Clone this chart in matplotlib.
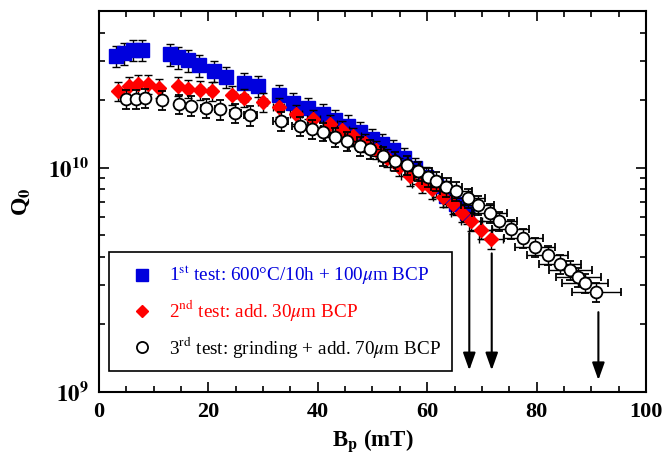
import matplotlib
matplotlib.use("Agg")
import matplotlib.pyplot as plt
from matplotlib.lines import Line2D
from matplotlib.ticker import FixedLocator, FixedFormatter, MultipleLocator, NullFormatter

plt.rcParams['font.family'] = ['Liberation Serif', 'DejaVu Serif']
plt.rcParams['mathtext.fontset'] = 'stix'

# 1st test: 600C/10h + 100um BCP
b1 = [3.1, 4.6, 6.2, 7.8, 13.0, 14.5, 16.3, 18.2, 21.0, 23.3, 26.5, 29.1,
      33.0, 35.5, 38.3, 41.0, 43.1, 45.6, 47.7, 49.9, 51.7, 53.8, 55.8,
      57.8, 59.8, 61.6, 63.4, 65.3, 67.2]
q1 = [3.15e10, 3.24e10, 3.35e10, 3.35e10, 3.20e10, 3.11e10, 3.01e10, 2.86e10,
      2.70e10, 2.54e10, 2.39e10, 2.31e10, 2.10e10, 1.95e10, 1.85e10, 1.73e10,
      1.63e10, 1.54e10, 1.44e10, 1.34e10, 1.27e10, 1.20e10, 1.10e10, 1.00e10,
      9.1e9, 8.3e9, 7.5e9, 6.9e9, 6.3e9]
q1_err = [3.5e9, 3.6e9, 3.7e9, 3.7e9, 3.5e9, 3.4e9, 3.3e9, 3.1e9, 3.0e9, 2.8e9,
          2.6e9, 2.5e9, 2.3e9, 2.1e9, 2.0e9, 1.9e9, 1.8e9, 1.7e9, 1.6e9, 1.5e9,
          1.4e9, 1.3e9, 1.2e9, 1.1e9, 1.0e9, 9e8, 8e8, 7.5e8, 7e8]

# 2nd test: additional 30um BCP
b2 = [3.5, 5.4, 7.2, 9.0, 11.0, 14.5, 16.3, 18.5, 20.6, 24.4, 26.5, 29.9,
      32.9, 36.1, 39.2, 42.2, 44.4, 46.5, 48.6, 50.6, 52.7, 54.8, 56.9,
      59.0, 60.8, 62.9, 64.8, 66.3, 68.1, 69.8, 71.7]
q2 = [2.20e10, 2.31e10, 2.36e10, 2.36e10, 2.27e10, 2.31e10, 2.25e10, 2.22e10,
      2.20e10, 2.11e10, 2.05e10, 1.97e10, 1.87e10, 1.74e10, 1.65e10, 1.56e10,
      1.47e10, 1.38e10, 1.29e10, 1.20e10, 1.11e10, 1.01e10, 9.2e9, 8.5e9,
      8.0e9, 7.4e9, 6.9e9, 6.3e9, 5.8e9, 5.3e9, 4.8e9]
q2_err = [2.1e9, 2.2e9, 2.3e9, 2.3e9, 2.2e9, 2.2e9, 2.1e9, 2.1e9, 2.1e9, 2.0e9,
          1.9e9, 1.9e9, 1.8e9, 1.7e9, 1.6e9, 1.5e9, 1.4e9, 1.3e9, 1.2e9, 1.1e9,
          1.0e9, 9.5e8, 8.8e8, 8.1e8, 7.6e8, 7.0e8, 6.5e8, 6.0e8, 5.5e8, 5.0e8,
          4.6e8]
b2_err = [0.3, 0.3, 0.3, 0.3, 0.4, 0.5, 0.5, 0.6, 0.6, 0.7, 0.8, 0.9, 1.0,
          1.1, 1.2, 1.3, 1.3, 1.4, 1.5, 1.5, 1.6, 1.6, 1.7, 1.8, 1.8, 1.9,
          1.9, 2.0, 2.0, 2.1, 2.2]

# 3rd test: grinding + additional 70um BCP
b3 = [5.0, 6.8, 8.4, 11.5, 14.7, 16.9, 19.5, 22.1, 24.9, 27.7, 33.2, 36.7,
      38.9, 41.0, 43.1, 45.3, 47.7, 49.5, 52.0, 54.2, 56.3, 58.4, 60.2, 61.7,
      63.5, 65.3, 67.5, 69.2, 71.4, 73.2, 75.3, 77.6, 79.7, 82.0, 84.3, 86.2,
      87.6, 88.8, 90.9]
q3 = [2.02e10, 2.03e10, 2.04e10, 2.00e10, 1.92e10, 1.89e10, 1.85e10, 1.82e10,
      1.76e10, 1.71e10, 1.62e10, 1.53e10, 1.49e10, 1.45e10, 1.37e10, 1.32e10,
      1.25e10, 1.21e10, 1.13e10, 1.07e10, 1.03e10, 9.7e9, 9.1e9, 8.75e9,
      8.2e9, 7.85e9, 7.3e9, 6.8e9, 6.27e9, 5.81e9, 5.34e9, 4.87e9, 4.42e9,
      4.1e9, 3.73e9, 3.51e9, 3.25e9, 3.06e9, 2.79e9]
q3_err = [2.0e9, 2.0e9, 2.0e9, 2.0e9, 1.9e9, 1.9e9, 1.8e9, 1.8e9, 1.7e9, 1.7e9,
          1.6e9, 1.5e9, 1.5e9, 1.4e9, 1.3e9, 1.3e9, 1.2e9, 1.2e9, 1.1e9, 1.0e9,
          1.0e9, 9.5e8, 9.0e8, 8.5e8, 8.0e8, 7.6e8, 7.1e8, 6.6e8, 6.1e8, 5.6e8,
          5.2e8, 4.7e8, 4.3e8, 4.0e8, 3.6e8, 3.4e8, 3.2e8, 3.0e8, 2.7e8]
b3_err = [0.3, 0.3, 0.4, 0.5, 0.6, 0.7, 0.8, 0.9, 1.0, 1.1, 1.3, 1.5, 1.6,
          1.7, 1.8, 1.9, 2.0, 2.1, 2.2, 2.3, 2.4, 2.5, 2.6, 2.7, 2.8, 2.9,
          3.0, 3.1, 3.2, 3.3, 3.4, 3.5, 3.6, 3.7, 3.9, 4.0, 4.1, 4.2, 4.5]

# quench field markers: field, arrow start, arrow tip
arrow_b = [67.7, 71.8, 91.3]
arrow_top = [5.1e9, 4.15e9, 2.27e9]
arrow_tip = [1.25e9, 1.25e9, 1.13e9]

labels = [r'1$^{\rm st}$ test: 600°C/10h + 100$\mu$m BCP',
          r'2$^{\rm nd}$ test: add. 30$\mu$m BCP',
          r'3$^{\rm rd}$ test: grinding + add. 70$\mu$m BCP']
colors = ['#0000dd', '#ff0000', 'black']

fig = plt.figure(figsize=(6.62, 4.66), dpi=100)
ax = fig.add_axes([0.1495, 0.1588, 0.8263, 0.8176])

eb = dict(ecolor='black', elinewidth=1.0, capsize=2.8, capthick=1.0, linestyle='none')
ax.errorbar(b1, q1, yerr=q1_err, marker='s', ms=9.8, mfc=colors[0], mec=colors[0],
            zorder=2, **eb)
ax.errorbar(b2, q2, yerr=q2_err, xerr=b2_err, marker='D', ms=6.8, mfc=colors[1],
            mec=colors[1], zorder=3, **eb)
ax.errorbar(b3, q3, yerr=q3_err, xerr=b3_err, marker='o', ms=8.5, mfc='white',
            mec='black', mew=1.3, zorder=4, **eb)

for xb, yt, yb in zip(arrow_b, arrow_top, arrow_tip):
    ax.annotate('', xy=(xb, yb), xytext=(xb, yt),
                arrowprops=dict(arrowstyle='-|>,head_length=0.7,head_width=0.25',
                                mutation_scale=15, color='black', lw=1.5,
                                shrinkA=0, shrinkB=0), zorder=5)

ax.set_yscale('log')
ax.set_xlim(0, 100)
ax.set_ylim(1e9, 5e10)

ax.xaxis.set_major_locator(MultipleLocator(20))
ax.xaxis.set_minor_locator(MultipleLocator(5))
ax.yaxis.set_major_locator(FixedLocator([1e9, 1e10]))
ax.yaxis.set_major_formatter(FixedFormatter([r'$\mathbf{10^{9}}$', r'$\mathbf{10^{10}}$']))
ax.yaxis.set_minor_locator(FixedLocator([k * 1e9 for k in range(2, 10)] +
                                        [k * 1e10 for k in range(2, 5)]))
ax.yaxis.set_minor_formatter(NullFormatter())

ax.tick_params(which='both', direction='in', top=True, right=True, width=1.2,
               pad=7)
ax.tick_params(axis='x', labelsize=16)
ax.tick_params(axis='y', labelsize=16.5)
ax.tick_params(which='major', length=7)
ax.tick_params(which='minor', length=4)
for lab in ax.get_xticklabels():
    lab.set_fontweight('bold')
for sp in ax.spines.values():
    sp.set_linewidth(1.5)

ax.set_xlabel(r'B$_{\mathbf{p}}$ (mT)', fontsize=16.5, fontweight='bold', labelpad=4)
ax.set_ylabel(r'Q$_{\mathbf{0}}$', fontsize=17, fontweight='bold', labelpad=12)

handles = [Line2D([], [], ls='none', marker='s', ms=9, mfc=colors[0], mec=colors[0]),
           Line2D([], [], ls='none', marker='D', ms=6.5, mfc=colors[1], mec=colors[1]),
           Line2D([], [], ls='none', marker='o', ms=8, mfc='white', mec='black', mew=1.3)]
leg = ax.legend(handles, labels, loc='lower left', bbox_to_anchor=(0.0183, 0.055),
                borderaxespad=0, fontsize=13.8, frameon=True, fancybox=False,
                edgecolor='black', framealpha=1, handlelength=2.2,
                handletextpad=0.33, borderpad=0.6, labelspacing=0.58)
leg.get_frame().set_linewidth(1.2)
for t, c in zip(leg.get_texts(), colors):
    t.set_color(c)

fig.savefig('out.png', dpi=100)
